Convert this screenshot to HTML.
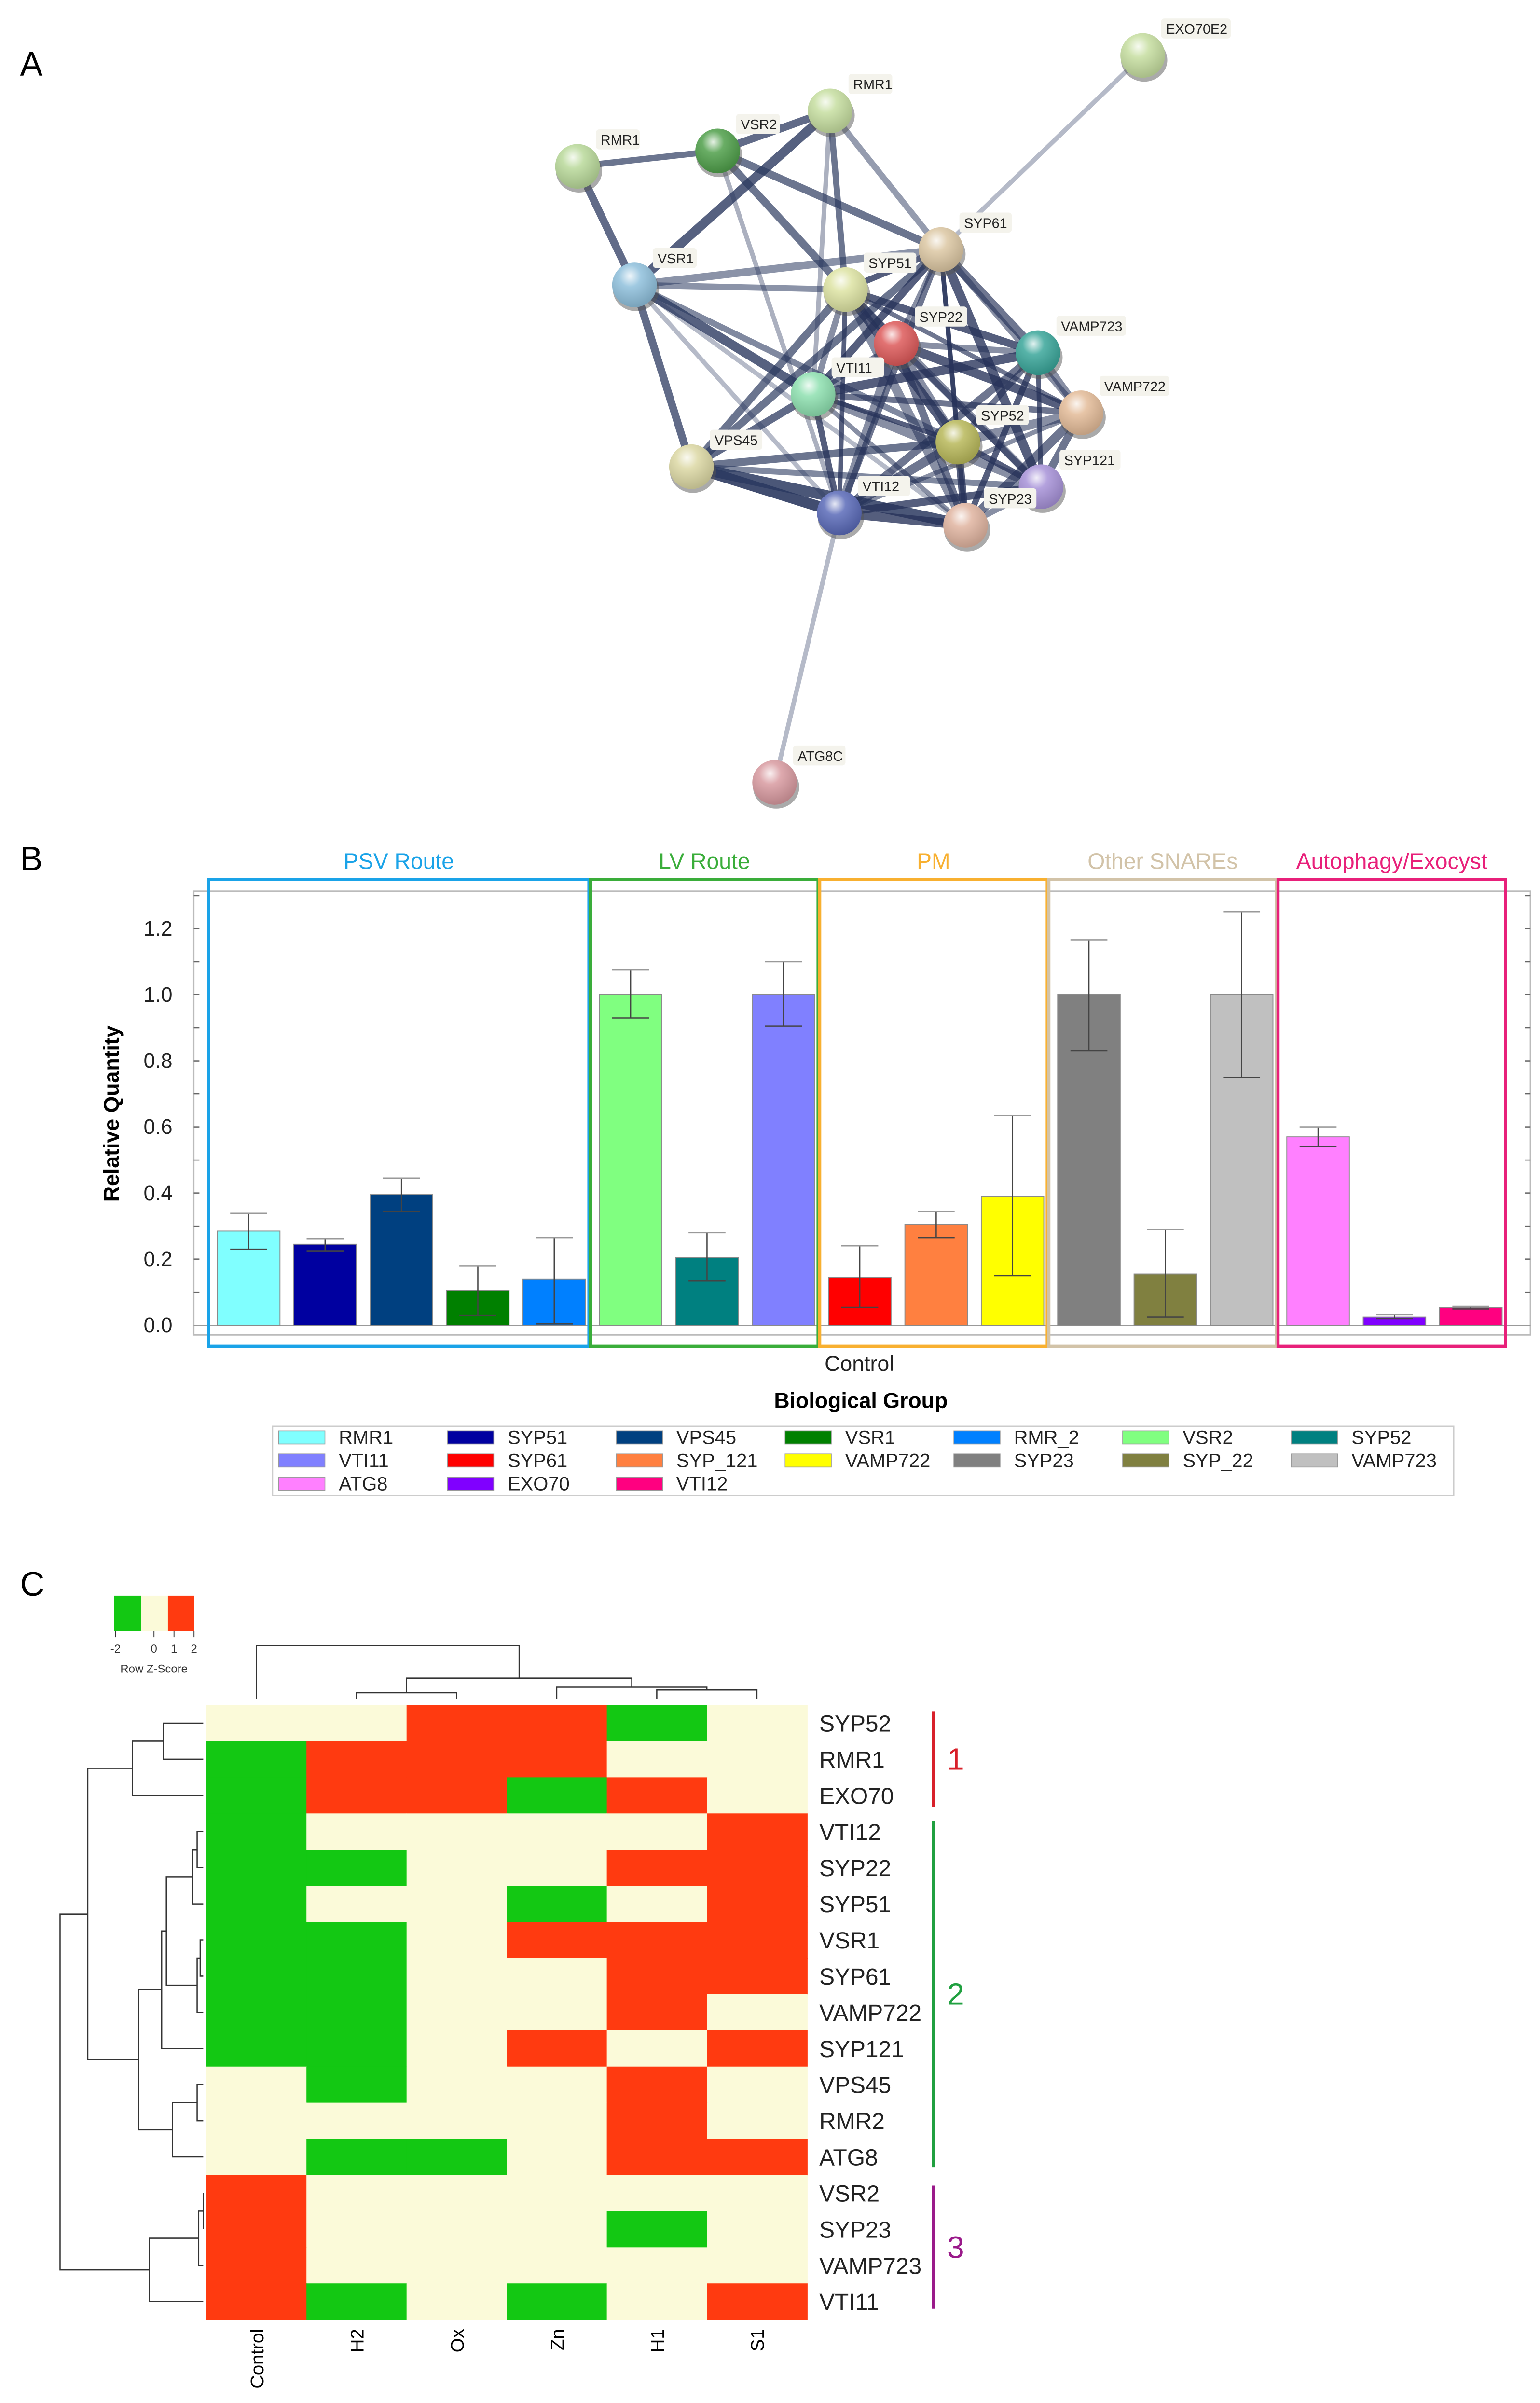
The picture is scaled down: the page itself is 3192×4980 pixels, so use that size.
<!DOCTYPE html>
<html><head><meta charset="utf-8">
<style>
html,body{margin:0;padding:0;background:#fff;}
svg{display:block;}
text{font-family:"Liberation Sans",sans-serif;}
</style></head>
<body>
<svg id="fig" xmlns="http://www.w3.org/2000/svg" width="3192" height="4980" viewBox="0 0 1000 1560.15">
<defs>
<radialGradient id="shine" cx="0.4" cy="0.3" r="0.7">
<stop offset="0" stop-color="#fff" stop-opacity="0.85"/>
<stop offset="0.35" stop-color="#fff" stop-opacity="0.15"/>
<stop offset="1" stop-color="#000" stop-opacity="0.15"/>
</radialGradient>
</defs>
<rect width="1000" height="1560.15" fill="#fff"/>
<text x="13" y="49" font-size="22">A</text>
<text x="13" y="565" font-size="22">B</text>
<text x="13" y="1036" font-size="22">C</text>
<g id="net"></g>
<g id="bar"></g>
<g id="heat"></g>
</svg>
<script>
const NS="http://www.w3.org/2000/svg";
function mk(tag,attrs,parent,txt){const e=document.createElementNS(NS,tag);for(const k in attrs)e.setAttribute(k,attrs[k]);if(txt!==undefined)e.textContent=txt;parent.appendChild(e);return e;}

/* ---------- Panel A: network ---------- */
const nodeNames=["EXO70E2","RMR1","VSR2","RMR1","VSR1","SYP61","SYP51","SYP22","VAMP723","VTI11","VAMP722","SYP52","SYP121","VPS45","VTI12","SYP23","ATG8C"];
const nodeX=[742,539,466,375,412,611,549,582,674,528,702,622,676,449,545,627,503];
const nodeY=[36,72,98,108,185,162,188,223,229,256,268,287,316,303,333,341,508];
const nodeColors=["#c6dea0","#c6dea0","#4f9f4a","#b9d99a","#8fc0dc","#dcc7a3","#dde3a3","#dd5a5a","#3aa69a","#8ee0b0","#e3bb98","#b8b85a","#a792d8","#dcd8a4","#5a6ab8","#e0b4a0","#d89aa0"];
const edgeA=[0,16,3,3,2,1,2,2,2,1,1,1,4,4,4,4,4,4,4,13,13,13,13,13,13,13];
const edgeB=[5,14,2,4,1,4,5,6,14,6,9,5,5,6,13,9,11,15,14,14,15,9,6,5,11,12];
const edgeW=[3,3,4,5,5,6,5,5,3,4,3,4,5,4,5,6,4,3,3,7,7,5,5,5,5,4];
const edgeOp=[0.35,0.35,0.7,0.75,0.75,0.8,0.7,0.7,0.4,0.7,0.4,0.5,0.55,0.55,0.75,0.8,0.6,0.35,0.35,0.9,0.85,0.75,0.7,0.7,0.7,0.6];
const core=[5,6,7,8,9,10,11,12,14,15];
const net=document.getElementById('net');
for(let i=0;i<edgeA.length;i++){
  const l=mk('line',{x1:nodeX[edgeA[i]],y1:nodeY[edgeA[i]],x2:nodeX[edgeB[i]],y2:nodeY[edgeB[i]],stroke:'#2c3a60','stroke-opacity':edgeOp[i],'stroke-width':edgeW[i]},net);
  
  
}
for(let i=0;i<core.length;i++)for(let j=i+1;j<core.length;j++){
  const a=core[i],b=core[j];
  const w=3+((a*7+b*3)%4);
  const l=mk('line',{x1:nodeX[a],y1:nodeY[a],x2:nodeX[b],y2:nodeY[b],stroke:'#27335a','stroke-opacity':0.55+((a+b)%3)*0.12,'stroke-width':w},net);
  
  
}
for(let i=0;i<nodeNames.length;i++){
  const g=mk('g',{},net);
  
  
  const tw=nodeNames[i].length*5.6+6;
  mk('rect',{x:nodeX[i]+12,y:nodeY[i]-24,width:tw,height:13,rx:2,fill:'#f4f3ec'},g);
  mk('text',{x:nodeX[i]+15,y:nodeY[i]-14,'font-size':9,fill:'#222'},g,nodeNames[i]);
  mk('ellipse',{cx:nodeX[i]+1,cy:nodeY[i]+3,rx:15,ry:14,fill:'#555','fill-opacity':0.5},g);
  mk('circle',{cx:nodeX[i],cy:nodeY[i],r:14.5,fill:nodeColors[i]},g);
  mk('circle',{cx:nodeX[i],cy:nodeY[i],r:14.5,fill:'url(#shine)'},g);
}

/* ---------- Panel B: bar chart ---------- */
const genes=["RMR1","SYP51","VPS45","VSR1","RMR_2","VSR2","SYP52","VTI11","SYP61","SYP_121","VAMP722","SYP23","SYP_22","VAMP723","ATG8","EXO70","VTI12"];
const values=[0.285,0.245,0.395,0.105,0.14,1.0,0.205,1.0,0.145,0.305,0.39,1.0,0.155,1.0,0.57,0.025,0.055];
const errLow=[0.23,0.225,0.345,0.03,0.005,0.93,0.135,0.905,0.055,0.265,0.15,0.83,0.025,0.75,0.54,0.02,0.05];
const errHigh=[0.34,0.262,0.445,0.18,0.265,1.075,0.28,1.10,0.24,0.345,0.635,1.165,0.29,1.25,0.60,0.032,0.058];
const barColors=["#80ffff","#0000a0","#004080","#008000","#0080ff","#80ff80","#008080","#8080ff","#ff0000","#ff8040","#ffff00","#808080","#808040","#c0c0c0","#ff80ff","#8000ff","#ff0080"];
const yTicks=[0.0,0.2,0.4,0.6,0.8,1.0,1.2];
const groupNames=["PSV Route","LV Route","PM","Other SNAREs","Autophagy/Exocyst"];
const groupColors=["#1aa3e8","#3aad3a","#f8b030","#d2c3a8","#e8207a"];
const groupStart=[0,5,8,11,14];
const groupEnd=[4,7,10,13,16];
const bar=document.getElementById('bar');
const y0=860.5, unit=(860.5-602.9)/1.2;
const Y=v=>y0-v*unit;
const X=i=>161.5+i*49.6;
const bw=40.6;
let e=mk('rect',{x:125.8,y:578.6,width:868,height:288,fill:'none',stroke:'#bbb','stroke-width':1},bar);

for(let k=-0.1;k<=1.301;k+=0.1){const yy=Y(k);if(yy>866||yy<579)continue;
  mk('line',{x1:125.8,y1:yy,x2:129.5,y2:yy,stroke:'#666','stroke-width':0.8},bar);
  mk('line',{x1:990,y1:yy,x2:993.8,y2:yy,stroke:'#666','stroke-width':0.8},bar);}
yTicks.forEach(t=>{
  const tx=mk('text',{x:112,y:Y(t)+4.5,'font-size':13.5,'text-anchor':'end',fill:'#222'},bar,t.toFixed(1));
  
});
mk('line',{x1:125.8,y1:Y(0),x2:993.8,y2:Y(0),stroke:'#999','stroke-width':0.6},bar);
e=mk('text',{x:0,y:0,'font-size':14,'font-weight':'bold','text-anchor':'middle',transform:'translate(77,723) rotate(-90)'},bar,'Relative Quantity');

genes.forEach((g,i)=>{
  const r=mk('rect',{x:X(i)-bw/2,y:Y(values[i]),width:bw,height:Y(0)-Y(values[i]),fill:barColors[i],stroke:'#8a8a8a','stroke-width':0.6},bar);
  
  
  const eg=mk('g',{stroke:'#444','stroke-width':0.8},bar);
  
  
  mk('line',{x1:X(i),y1:Y(errLow[i]),x2:X(i),y2:Y(errHigh[i])},eg);
  mk('line',{x1:X(i)-12,y1:Y(errLow[i]),x2:X(i)+12,y2:Y(errLow[i])},eg);
  mk('line',{x1:X(i)-12,y1:Y(errHigh[i]),x2:X(i)+12,y2:Y(errHigh[i]),stroke:'#999'},eg);
});
groupNames.forEach((n,k)=>{
  const x1=X(groupStart[k])-26, x2=X(groupEnd[k])+22.5;
  const r=mk('rect',{x:x1,y:571,width:x2-x1,height:303,fill:'none',stroke:groupColors[k],'stroke-width':2},bar);
  
  const t=mk('text',{x:(x1+x2)/2,y:564,'font-size':14.5,'text-anchor':'middle',fill:groupColors[k]},bar,n);
  
});
e=mk('text',{x:558,y:890,'font-size':14,'text-anchor':'middle',fill:'#222'},bar,'Control');

e=mk('text',{x:559,y:914,'font-size':14,'font-weight':'bold','text-anchor':'middle'},bar,'Biological Group');

const lg=mk('g',{},bar);

mk('rect',{x:177,y:926,width:767,height:45,fill:'#fff',stroke:'#ccc','stroke-width':0.8},lg);
genes.forEach((g,i)=>{
  const row=Math.floor(i/7), col=i%7;
  const lx=181+col*109.6, ly=933+row*15;
  const ent=mk('g',{},lg);
  
  
  mk('rect',{x:lx,y:ly-4,width:30,height:8.5,fill:barColors[i],stroke:'#999','stroke-width':0.5},ent);
  mk('text',{x:lx+39,y:ly+4.5,'font-size':12.5,fill:'#222'},ent,g);
});

/* ---------- Panel C: heatmap ---------- */
const rows=["SYP52","RMR1","EXO70","VTI12","SYP22","SYP51","VSR1","SYP61","VAMP722","SYP121","VPS45","RMR2","ATG8","VSR2","SYP23","VAMP723","VTI11"];
const cols=["Control","H2","Ox","Zn","H1","S1"];
const zscores=[
[0,0,2,2,-2,0],[-2,2,2,2,0,0],[-2,2,2,-2,2,0],[-2,0,0,0,0,2],[-2,-2,0,0,2,2],[-2,0,0,-2,0,2],
[-2,-2,0,2,2,2],[-2,-2,0,0,2,2],[-2,-2,0,0,2,0],[-2,-2,0,2,0,2],[0,-2,0,0,2,0],[0,0,0,0,2,0],
[0,-2,-2,0,2,2],[2,0,0,0,0,0],[2,0,0,0,-2,0],[2,0,0,0,0,0],[2,-2,0,-2,0,2]];
const heat=document.getElementById('heat');
const hx0=134, hy0=1107, cw=65, rh=(1506-1107)/17;
const zcol=z=>z<=-1?'#13c813':(z>=1?'#ff3a10':'#fbfad9');
zscores.forEach((r,i)=>r.forEach((z,j)=>{
  const c=mk('rect',{x:hx0+j*cw,y:hy0+i*rh,width:cw+0.4,height:rh+0.4,fill:zcol(z)},heat);
  
  
}));
rows.forEach((n,i)=>{
  const t=mk('text',{x:532,y:hy0+(i+0.5)*rh+5.5,'font-size':15,fill:'#222'},heat,n);
  
});
cols.forEach((n,j)=>{
  const cx=hx0+(j+0.5)*cw;
  const t=mk('text',{x:0,y:0,'font-size':12,'text-anchor':'end',transform:`translate(${cx+4.5},1512) rotate(-90)`},heat,n);
  
});
const cd=mk('g',{stroke:'#333','stroke-width':0.8,fill:'none'},heat);

const ccx=j=>hx0+(j+0.5)*cw;
function U(g,xa,ya,xb,yb,yt){mk('polyline',{points:`${xa},${ya} ${xa},${yt} ${xb},${yt} ${xb},${yb}`},g);}
const base=1103;
U(cd,ccx(1),base,ccx(2),base,1099);
U(cd,ccx(4),base,ccx(5),base,1097.2);
const h1s1=(ccx(4)+ccx(5))/2;
U(cd,ccx(3),base,h1s1,1097.2,1095.4);
const zn=(ccx(3)+h1s1)/2, h2ox=(ccx(1)+ccx(2))/2;
U(cd,h2ox,1099,zn,1095.4,1089.5);
U(cd,ccx(0),base,(h2ox+zn)/2,1089.5,1068.5);
const rd=mk('g',{stroke:'#333','stroke-width':0.8,fill:'none'},heat);

const ry=i=>hy0+(i+0.5)*rh;
function L(g,ya,xa,yb,xb,xt){mk('polyline',{points:`${xa},${ya} ${xt},${ya} ${xt},${yb} ${xb},${yb}`},g);}
const leaf=132;
L(rd,ry(0),leaf,ry(1),leaf,106); const c01=(ry(0)+ry(1))/2;
L(rd,c01,106,ry(2),leaf,86); const c1=(c01+ry(2))/2;
L(rd,ry(3),leaf,ry(4),leaf,128); const a34=(ry(3)+ry(4))/2;
L(rd,a34,128,ry(5),leaf,125); const a345=(a34+ry(5))/2;
L(rd,ry(6),leaf,ry(7),leaf,130); const a67=(ry(6)+ry(7))/2;
L(rd,a67,130,ry(8),leaf,128); const a678=(a67+ry(8))/2;
L(rd,a345,125,a678,128,108); const b=(a345+a678)/2;
L(rd,b,108,ry(9),leaf,105); const b2=(b+ry(9))/2;
L(rd,ry(10),leaf,ry(11),leaf,128); const d1=(ry(10)+ry(11))/2;
L(rd,d1,128,ry(12),leaf,112); const d2=(d1+ry(12))/2;
L(rd,b2,105,d2,112,90); const c2=(b2+d2)/2;
L(rd,c1,86,c2,90,57); const top1=(c1+c2)/2;
L(rd,ry(13),leaf,ry(14),leaf,132); const e1=(ry(13)+ry(14))/2;
L(rd,e1,132,ry(15),leaf,129); const e2=(e1+ry(15))/2;
L(rd,e2,129,ry(16),leaf,97); const c3=(e2+ry(16))/2;
L(rd,top1,57,c3,97,39);
const clusterLabels=["1","2","3"];
const clusterColors=["#d8202a","#20a040","#9a1a8a"];
const clusterTop=[1111,1182,1419];
const clusterBot=[1173,1407,1499];
clusterLabels.forEach((n,k)=>{
  const g=mk('g',{},heat);
  
  mk('line',{x1:606,y1:clusterTop[k],x2:606,y2:clusterBot[k],stroke:clusterColors[k],'stroke-width':2},g);
  mk('text',{x:615,y:(clusterTop[k]+clusterBot[k])/2+7,'font-size':20,fill:clusterColors[k]},g,n);
});
const ck=mk('g',{},heat);

mk('rect',{x:74,y:1036,width:17.5,height:23,fill:'#13c813'},ck);
mk('rect',{x:91.5,y:1036,width:17.5,height:23,fill:'#fbfad9'},ck);
mk('rect',{x:109,y:1036,width:17,height:23,fill:'#ff3a10'},ck);
const keyTicks=["-2","0","1","2"], keyX=[75,100,113,126];
keyTicks.forEach((t,i)=>{mk('line',{x1:keyX[i],y1:1059,x2:keyX[i],y2:1063,stroke:'#333','stroke-width':0.6},ck);
  mk('text',{x:keyX[i],y:1073,'font-size':7.5,'text-anchor':'middle',fill:'#333'},ck,t);});
mk('text',{x:100,y:1086,'font-size':7.5,'text-anchor':'middle',fill:'#333'},ck,'Row Z-Score');
</script>
</body></html>
